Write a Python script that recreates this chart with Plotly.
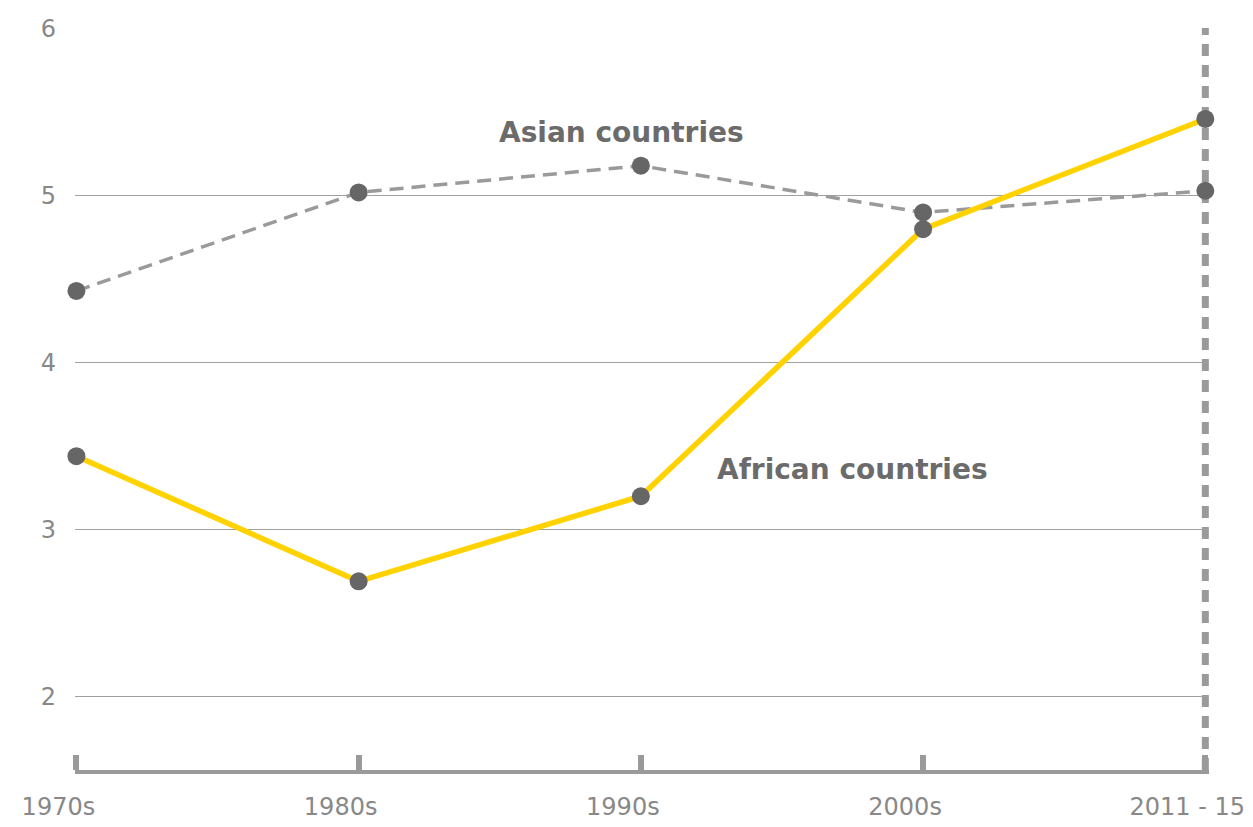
import plotly.graph_objects as go

categories = ["1970s", "1980s", "1990s", "2000s", "2011 - 15"]
asian = [4.43, 5.02, 5.18, 4.90, 5.03]
african = [3.44, 2.69, 3.20, 4.80, 5.46]
y_ticks = [2, 3, 4, 5, 6]

fig = go.Figure()
fig.add_trace(go.Scatter(
    x=categories, y=asian, mode="lines+markers",
    line=dict(color="#9a9a9a", width=3.5, dash="14px,8px"),
    marker=dict(color="#666666", size=18),
    cliponaxis=False, showlegend=False))
fig.add_trace(go.Scatter(
    x=categories, y=african, mode="lines+markers",
    line=dict(color="#FFD200", width=5.5),
    marker=dict(color="#666666", size=18),
    cliponaxis=False, showlegend=False))

fig.add_shape(type="line", xref="x", yref="paper", x0=categories[-1], x1=categories[-1],
              y0=0, y1=1, line=dict(color="#9a9a9a", width=7, dash="12px,9px"), layer="below")

fig.add_annotation(x=1.93, y=5.38, text="<b>Asian countries</b>", showarrow=False,
                   font=dict(size=28, color="#6b6b6b", family="DejaVu Sans"))
fig.add_annotation(x=2.75, y=3.36, text="<b>African countries</b>", showarrow=False,
                   font=dict(size=28, color="#6b6b6b", family="DejaVu Sans"))

fig.update_layout(
    width=1253, height=827,
    margin=dict(l=75, r=44, t=28, b=57),
    plot_bgcolor="white", paper_bgcolor="white",
    font=dict(family="DejaVu Sans", color="#888888", size=24),
    xaxis=dict(type="category", range=[-0.005, 4.013], showgrid=False, showline=True,
               linecolor="#9a9a9a", linewidth=4, ticks="inside", ticklen=15,
               tickwidth=6, tickcolor="#9a9a9a", ticklabelstandoff=12, automargin=False,
               ticklabelshift=-18,
               tickfont=dict(size=24, color="#888888")),
    yaxis=dict(range=[1.56, 6.005], tickvals=y_ticks, showgrid=True, gridcolor="#a0a0a0",
               gridwidth=1.3, zeroline=False, showline=False, ticks="", automargin=False,
               ticklabelstandoff=18, tickfont=dict(size=24, color="#888888")),
)

fig.write_html("out.html")
